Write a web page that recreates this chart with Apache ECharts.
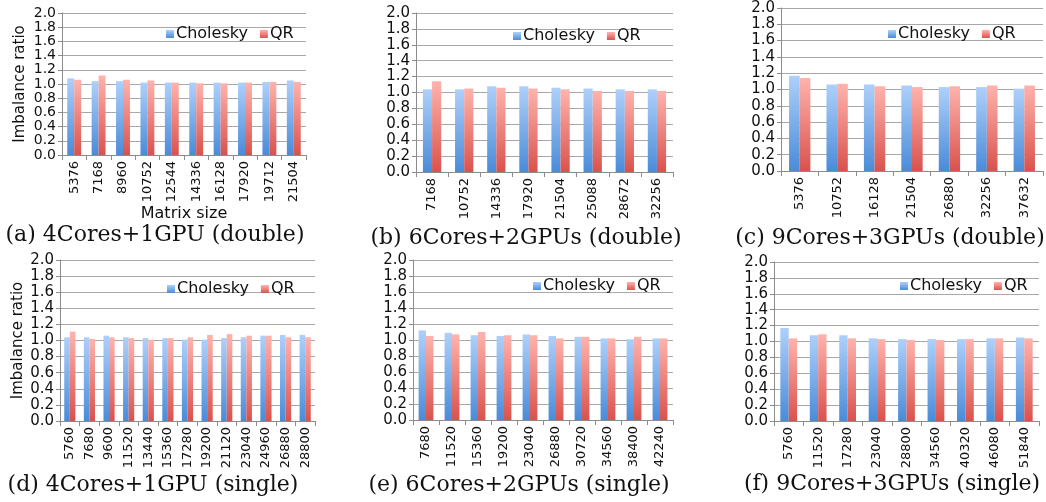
<!DOCTYPE html>
<html>
<head>
<meta charset="utf-8">
<script src="https://cdn.jsdelivr.net/npm/echarts@6/dist/echarts.min.js"></script>
<style>
html,body{margin:0;padding:0;background:#fff;}
#c{width:1046px;height:502px;}
</style>
</head>
<body>
<div id="c"></div>
<script>
// ---- data ----
const catsA = ['5376','7168','8960','10752','12544','14336','16128','17920','19712','21504'];
const cholA = [1.08,1.04,1.04,1.02,1.02,1.02,1.02,1.02,1.03,1.05];
const qrA   = [1.06,1.12,1.06,1.05,1.02,1.01,1.01,1.02,1.03,1.03];

const catsB = ['7168','10752','14336','17920','21504','25088','28672','32256'];
const cholB = [1.04,1.04,1.08,1.08,1.06,1.05,1.04,1.04];
const qrB   = [1.14,1.05,1.06,1.05,1.04,1.02,1.02,1.02];

const catsC = ['5376','10752','16128','21504','26880','32256','37632'];
const cholC = [1.17,1.06,1.06,1.05,1.03,1.03,1.01];
const qrC   = [1.14,1.07,1.04,1.03,1.04,1.05,1.05];

const catsD = ['5760','7680','9600','11520','13440','15360','17280','19200','21120','23040','24960','26880','28800'];
const cholD = [1.04,1.04,1.06,1.04,1.03,1.03,1.01,1.01,1.03,1.04,1.06,1.07,1.07];
const qrD   = [1.11,1.02,1.04,1.03,1.01,1.03,1.04,1.07,1.08,1.06,1.06,1.04,1.04];

const catsE = ['7680','11520','15360','19200','23040','26880','30720','34560','38400','42240'];
const cholE = [1.12,1.09,1.06,1.05,1.07,1.05,1.04,1.02,1.01,1.02];
const qrE   = [1.05,1.07,1.10,1.06,1.06,1.02,1.04,1.02,1.04,1.02];

const catsF = ['5760','11520','17280','23040','28800','34560','40320','46080','51840'];
const cholF = [1.17,1.08,1.08,1.04,1.03,1.03,1.03,1.04,1.05];
const qrF   = [1.04,1.09,1.04,1.03,1.02,1.02,1.03,1.04,1.04];

const yTicks = ['0.0','0.2','0.4','0.6','0.8','1.0','1.2','1.4','1.6','1.8','2.0'];
const captions = ['(a) 4Cores+1GPU (double)','(b) 6Cores+2GPUs (double)','(c) 9Cores+3GPUs (double)',
                  '(d) 4Cores+1GPU (single)','(e) 6Cores+2GPUs (single)','(f) 9Cores+3GPUs (single)'];
const seriesNames = ['Cholesky','QR'];
const yName = 'Imbalance ratio';
const xName = 'Matrix size';

// ---- layout ----
const FONT = "'DejaVu Sans', sans-serif";
const panels = [
  {cats:catsA, c:cholA, q:qrA, grid:{left:62,top:13,width:244,height:142}, leg:{left:166,top:26}, cap:[155,235], yname:true, xname:true, yfs:14},
  {cats:catsB, c:cholB, q:qrB, grid:{left:416,top:13,width:257,height:159}, leg:{left:513,top:28}, cap:[526,238], yfs:15},
  {cats:catsC, c:cholC, q:qrC, grid:{left:781,top:8,width:262,height:163}, leg:{left:888,top:26}, cap:[890,238], yfs:15},
  {cats:catsD, c:cholD, q:qrD, grid:{left:60,top:260,width:255,height:161}, leg:{left:167,top:281}, cap:[153,485], yname:true, yfs:15},
  {cats:catsE, c:cholE, q:qrE, grid:{left:413,top:260,width:260,height:160}, leg:{left:533,top:278}, cap:[519,485], yfs:15},
  {cats:catsF, c:cholF, q:qrF, grid:{left:774,top:262,width:265,height:159}, leg:{left:900,top:278}, cap:[892,484], yfs:15}
];

const blueGrad = new echarts.graphic.LinearGradient(0,0,0,1,[{offset:0,color:'#aed0fa'},{offset:1,color:'#4a8bd8'}]);
const redGrad  = new echarts.graphic.LinearGradient(0,0,0,1,[{offset:0,color:'#ffb3ad'},{offset:1,color:'#d9524d'}]);

const grids=[], xAxes=[], yAxes=[], series=[], legends=[], graphics=[];
panels.forEach((p,i)=>{
  grids.push(Object.assign({containLabel:false}, p.grid));
  xAxes.push({
    type:'category', gridIndex:i, data:p.cats,
    axisLine:{lineStyle:{color:'#8c8c8c',width:1}},
    axisTick:{show:true,length:5,lineStyle:{color:'#8c8c8c'}},
    axisLabel:{rotate:90,fontFamily:FONT,fontSize:13,color:'#111',margin:6,interval:0},
    name:p.xname?xName:'', nameLocation:'middle', nameGap:48,
    nameTextStyle:{fontFamily:FONT,fontSize:16,color:'#111'}
  });
  yAxes.push({
    type:'value', gridIndex:i, min:0, max:2, interval:0.2,
    axisLine:{show:true,lineStyle:{color:'#8c8c8c'}},
    axisTick:{show:true,length:4,lineStyle:{color:'#8c8c8c'}},
    splitLine:{lineStyle:{color:'#a8a8a8',width:1}},
    axisLabel:{fontFamily:FONT,fontSize:p.yfs,lineHeight:10,color:'#111',margin:6,showMinLabel:true,showMaxLabel:true,hideOverlap:false,
      formatter:(v)=>yTicks[Math.round(v/0.2)]},
    name:p.yname?yName:'', nameLocation:'middle', nameGap:34,
    nameTextStyle:{fontFamily:FONT,fontSize:15,color:'#111'}
  });
  series.push({name:seriesNames[0],type:'bar',xAxisIndex:i,yAxisIndex:i,data:p.c,
    itemStyle:{color:blueGrad},barGap:'0%',barCategoryGap:'43%',animation:false});
  series.push({name:seriesNames[1],type:'bar',xAxisIndex:i,yAxisIndex:i,data:p.q,
    itemStyle:{color:redGrad},barGap:'0%',barCategoryGap:'43%',animation:false});
  legends.push({data:seriesNames,left:p.leg.left,top:p.leg.top,itemWidth:8,itemHeight:8,itemGap:12,
    icon:'rect',textStyle:{fontFamily:FONT,fontSize:16,color:'#111',padding:[0,0,0,-3]},
    padding:0,selectedMode:false});
  graphics.push({type:'text',x:p.cap[0],y:p.cap[1],
    style:{text:captions[i],font:'22px "DejaVu Serif", serif',fill:'#111',align:'center',verticalAlign:'middle'}});
});

const chart = echarts.init(document.getElementById('c'),null,{renderer:'canvas'});
chart.setOption({
  animation:false,
  backgroundColor:'#fff',
  grid:grids, xAxis:xAxes, yAxis:yAxes, series:series, legend:legends, graphic:graphics
});
</script>
</body>
</html>
